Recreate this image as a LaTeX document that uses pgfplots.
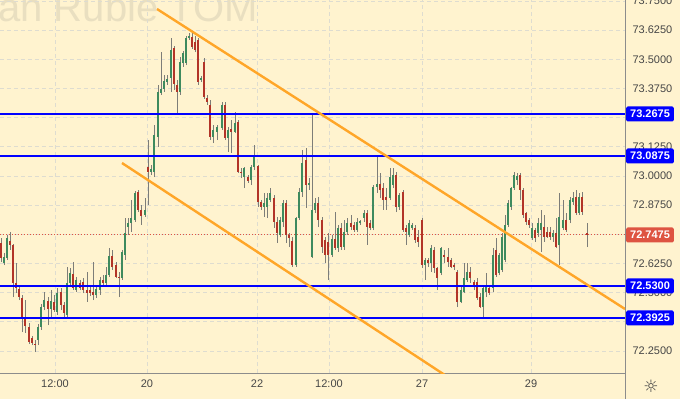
\documentclass[border=0pt]{standalone}
\usepackage{pgfplots}
\usepackage{pgfplotstable}
\pgfplotsset{compat=1.18}
\usepackage{fontspec}
\setmainfont{Liberation Sans}
\newfontfamily\djv{DejaVu Sans}
\definecolor{bgc}{RGB}{255,243,207}
\definecolor{wmc}{RGB}{233,223,192}
\definecolor{gridc}{RGB}{222,220,208}
\definecolor{axisc}{RGB}{140,140,140}
\definecolor{tickc}{RGB}{70,70,70}
\definecolor{upc}{RGB}{62,138,94}
\definecolor{dnc}{RGB}{178,52,40}
\definecolor{wickc}{RGB}{125,125,120}
\definecolor{lvl}{RGB}{0,0,255}
\definecolor{orng}{RGB}{255,166,40}
\definecolor{curc}{RGB}{222,84,66}
\pgfdeclareplotmark{wick}{%
  \pgfpathmoveto{\pgfpointorigin}\pgfpathlineto{\pgfpoint{0pt}{\wlen pt}}\pgfusepath{stroke}}
\pgfdeclareplotmark{body}{%
  \pgfpathrectangle{\pgfpoint{-1.3pt}{0pt}}{\pgfpoint{2.6pt}{\blen pt}}\pgfusepath{fill}}
\pgfplotstableread{
x o h l c
1 72.713 72.734 72.631 72.648
4 72.627 72.670 72.618 72.653
7 72.648 72.747 72.640 72.734
10 72.721 72.760 72.683 72.704
13 72.704 72.708 72.481 72.541
16 72.541 72.627 72.498 72.520
19 72.515 72.524 72.468 72.481
22 72.477 72.490 72.331 72.391
25 72.391 72.468 72.327 72.357
29 72.353 72.370 72.280 72.288
32 72.305 72.314 72.275 72.284
35 72.280 72.297 72.245 72.275
38 72.297 72.365 72.275 72.353
41 72.353 72.451 72.340 72.438
44 72.438 72.503 72.425 72.468
48 72.464 72.481 72.361 72.430
51 72.430 72.511 72.395 72.464
54 72.460 72.490 72.417 72.425
57 72.417 72.520 72.404 72.498
61 72.503 72.520 72.425 72.447
64 72.447 72.460 72.395 72.413
67 72.404 72.610 72.391 72.541
70 72.541 72.605 72.524 72.584
73 72.580 72.631 72.511 72.520
76 72.511 72.567 72.503 72.554
80 72.541 72.554 72.511 72.520
83 72.545 72.563 72.498 72.511
87 72.511 72.588 72.460 72.498
90 72.511 72.524 72.485 72.498
93 72.503 72.631 72.468 72.490
96 72.490 72.533 72.477 72.515
100 72.511 72.567 72.490 72.554
103 72.554 72.575 72.528 72.541
106 72.541 72.610 72.533 72.575
109 72.575 72.691 72.567 72.657
112 72.657 72.683 72.597 72.610
116 72.618 72.631 72.563 72.567
119 72.567 72.588 72.481 72.563
122 72.563 72.683 72.554 72.674
125 72.661 72.820 72.640 72.755
128 72.781 72.820 72.747 72.798
131 72.798 72.897 72.760 72.820
135 72.811 72.935 72.803 72.927
138 72.931 72.940 72.845 72.854
141 72.854 72.875 72.790 72.828
145 72.833 72.905 72.824 72.854
148 73.038 73.154 72.875 73.017
151 73.017 73.047 73.004 73.030
154 73.017 73.218 72.995 73.175
158 73.167 73.390 73.124 73.360
161 73.355 73.531 73.347 73.373
164 73.373 73.433 73.360 73.407
167 73.403 73.433 73.390 73.415
171 73.420 73.591 73.360 73.540
174 73.548 73.557 73.368 73.394
177 73.390 73.411 73.270 73.360
180 73.360 73.510 73.347 73.488
183 73.484 73.535 73.467 73.527
186 73.484 73.600 73.475 73.591
189 73.591 73.613 73.583 73.600
192 73.595 73.617 73.544 73.553
195 73.574 73.600 73.531 73.540
198 73.583 73.591 73.390 73.403
201 73.411 73.428 73.403 73.420
204 73.488 73.505 73.330 73.338
207 73.334 73.347 73.304 73.317
210 73.304 73.325 73.154 73.167
213 73.167 73.218 73.141 73.197
217 73.188 73.218 73.154 73.210
222 73.205 73.317 73.197 73.304
225 73.304 73.317 73.154 73.163
228 73.163 73.210 73.103 73.197
231 73.201 73.240 73.098 73.188
235 73.188 73.274 73.184 73.227
238 73.231 73.240 73.013 73.017
241 73.017 73.034 72.991 73.013
244 72.995 73.038 72.948 73.034
248 72.995 73.004 72.970 72.978
251 72.983 73.047 72.961 73.038
254 73.038 73.133 73.025 73.081
258 73.043 73.047 72.867 72.888
261 72.888 72.897 72.854 72.867
264 72.867 72.927 72.824 72.884
267 72.867 72.927 72.820 72.905
270 72.897 72.948 72.888 72.927
274 72.905 72.918 72.777 72.803
277 72.803 72.824 72.713 72.755
280 72.747 72.824 72.738 72.811
283 72.803 72.897 72.781 72.884
286 72.884 72.897 72.713 72.747
289 72.747 72.755 72.695 72.734
292 72.721 72.738 72.610 72.618
296 72.618 72.824 72.610 72.820
299 72.820 72.948 72.811 72.931
302 72.931 73.111 72.910 73.055
306 73.068 73.120 72.863 72.961
309 72.961 72.991 72.940 72.970
312 72.653 73.270 72.648 72.854
315 72.854 72.905 72.841 72.884
318 72.884 72.910 72.781 72.811
322 72.811 72.824 72.670 72.695
325 72.725 72.738 72.627 72.661
328 72.717 72.755 72.554 72.661
332 72.661 72.747 72.653 72.730
335 72.730 72.845 72.683 72.691
338 72.691 72.790 72.674 72.777
341 72.777 72.798 72.683 72.695
344 72.695 72.811 72.683 72.760
347 72.760 72.820 72.747 72.798
351 72.798 72.833 72.768 72.781
354 72.790 72.803 72.760 72.768
357 72.768 72.820 72.760 72.803
360 72.798 72.811 72.790 72.807
364 72.820 72.854 72.803 72.841
367 72.841 72.854 72.704 72.781
370 72.798 72.811 72.768 72.777
373 72.777 72.961 72.768 72.953
377 72.953 73.081 72.927 72.965
380 72.965 73.013 72.905 72.940
383 72.948 72.970 72.854 72.897
386 72.910 72.948 72.854 72.897
390 72.905 73.034 72.897 72.995
393 72.961 73.034 72.948 73.004
396 73.004 73.017 72.845 72.867
399 72.867 72.927 72.854 72.918
403 72.931 72.940 72.760 72.768
406 72.777 72.790 72.704 72.760
409 72.747 72.811 72.738 72.798
412 72.777 72.798 72.768 72.790
415 72.777 72.790 72.713 72.725
418 72.738 72.768 72.695 72.717
422 72.811 72.820 72.605 72.618
425 72.618 72.648 72.554 72.640
428 72.640 72.648 72.610 72.627
431 72.627 72.704 72.588 72.691
434 72.683 72.695 72.584 72.605
437 72.605 72.610 72.511 72.563
441 72.584 72.695 72.575 72.691
444 72.661 72.683 72.627 72.653
448 72.653 72.691 72.610 72.631
451 72.640 72.648 72.605 72.610
454 72.618 72.627 72.597 72.610
457 72.588 72.597 72.438 72.460
461 72.460 72.524 72.455 72.511
464 72.503 72.627 72.498 72.563
467 72.554 72.627 72.545 72.588
470 72.588 72.610 72.541 72.563
474 72.545 72.554 72.511 72.524
477 72.545 72.563 72.468 72.477
480 72.481 72.498 72.434 72.438
483 72.438 72.524 72.395 72.520
486 72.503 72.584 72.481 72.524
489 72.520 72.533 72.490 72.498
493 72.520 72.691 72.503 72.661
496 72.683 72.734 72.567 72.575
499 72.584 72.670 72.575 72.661
502 72.597 72.755 72.588 72.738
505 72.640 72.833 72.631 72.790
508 72.790 72.897 72.781 72.884
511 72.867 72.953 72.854 72.948
514 72.948 73.017 72.940 73.004
517 72.983 73.013 72.961 73.000
520 73.004 73.013 72.897 72.940
523 72.940 72.948 72.820 72.833
526 72.841 72.845 72.790 72.803
529 72.811 72.820 72.777 72.790
532 72.734 72.798 72.725 72.777
535 72.768 72.777 72.717 72.734
538 72.755 72.820 72.738 72.798
541 72.768 72.854 72.674 72.798
544 72.781 72.833 72.717 72.738
547 72.760 72.781 72.734 72.738
550 72.760 72.781 72.725 72.738
553 72.738 72.768 72.717 72.755
556 72.755 72.820 72.691 72.695
559 72.704 72.927 72.618 72.824
563 72.777 72.897 72.768 72.811
566 72.811 72.841 72.760 72.768
570 72.811 72.910 72.798 72.897
573 72.888 72.931 72.875 72.905
576 72.910 72.940 72.833 72.841
579 72.841 72.927 72.833 72.910
582 72.910 72.931 72.833 72.845
587 72.755 72.798 72.695 72.747
}\candles
\pgfplotstableread{
x y
0 73.2675
625 73.2675
nan nan
0 73.0875
625 73.0875
nan nan
0 72.5300
625 72.5300
nan nan
0 72.3925
625 72.3925
}\levels
\begin{document}
\begin{tikzpicture}
\useasboundingbox (0pt,0pt) rectangle (680pt,399pt);
\fill[bgc] (0pt,0pt) rectangle (680pt,399pt);
\node[overlay, anchor=base east, inner sep=0pt, text=wmc, font=\fontsize{40}{40}\selectfont] at (258pt,377pt) {US Dollar/Russian Ruble TOM};
\begin{axis}[
  at={(0pt,26pt)}, anchor=south west, scale only axis, width=625pt, height=373pt,
  xmin=0, xmax=625, ymin=72.1554, ymax=73.754,
  axis x line*=bottom, axis y line*=right,
  axis line style={draw=axisc, line width=0.8pt},
  major tick length=0pt,
  xtick={55,147,257,329,422,531},
  xticklabels={12:00,20,22,12:00,27,29},
  ytick={72.25,72.375,72.5,72.625,72.75,72.875,73,73.125,73.25,73.375,73.5,73.625,73.75},
  yticklabels={72.2500,{},72.5000,72.6250,{},72.8750,73.0000,73.1250,{},73.3750,73.5000,73.6250,73.7500},
  grid=major,
  major grid style={draw=gridc, line width=0.7pt, dash pattern=on 4pt off 3pt},
  ticklabel style={font=\fontsize{11}{13}\selectfont, text=tickc},
  yticklabel style={anchor=west, xshift=4pt},
  xticklabel style={anchor=north, yshift=-3pt},
  clip mode=individual,
  unbounded coords=jump,
]
\addplot[curc, line width=0.8pt, dash pattern=on 1pt off 2pt, forget plot] coordinates {(0,72.7475) (625,72.7475)};
\addplot[only marks, mark=wick, mark options={draw=wickc, line width=0.8pt}, forget plot,
  visualization depends on={233.33*(\thisrow{h}-\thisrow{l}) \as \wlen}]
  table[x=x, y=l] {\candles};
\addplot[only marks, mark=body, mark options={fill=upc, draw=none}, forget plot,
  restrict expr to domain={\thisrow{c}-\thisrow{o}}{0:10},
  visualization depends on={233.33*(\thisrow{c}-\thisrow{o}) \as \blen}]
  table[x=x, y=o] {\candles};
\addplot[only marks, mark=body, mark options={fill=dnc, draw=none}, forget plot,
  restrict expr to domain={\thisrow{o}-\thisrow{c}}{0.0000001:10},
  visualization depends on={233.33*(\thisrow{c}-\thisrow{o}) \as \blen}]
  table[x=x, y=o] {\candles};
\addplot[draw=lvl, line width=2.0pt, mark=none, forget plot] table[x=x, y=y] {\levels};
\addplot[draw=orng, line width=2.4pt, forget plot] coordinates {(157,73.7154) (625,72.4297)};
\addplot[draw=orng, line width=2.4pt, forget plot] coordinates {(122,73.0554) (460,72.1040)};
\end{axis}
\begin{scope}[every node/.style={fill=lvl, text=white, font=\bfseries\fontsize{11}{13}\selectfont, anchor=west, inner xsep=4pt, inner ysep=0pt, minimum height=15pt, rounded corners=1.5pt}]
\node at (626pt,285pt) {73.2675};
\node at (626pt,243pt) {73.0875};
\node[fill=curc] at (626pt,164pt) {72.7475};
\node at (626pt,113pt) {72.5300};
\node at (626pt,81pt) {72.3925};
\end{scope}
\draw[axisc, line width=0.8pt] (625pt,0pt) -- (625pt,26pt);
\node[font=\djv\fontsize{17}{17}\selectfont, text=tickc] at (651pt,13pt) {☼};
\end{tikzpicture}
\end{document}
